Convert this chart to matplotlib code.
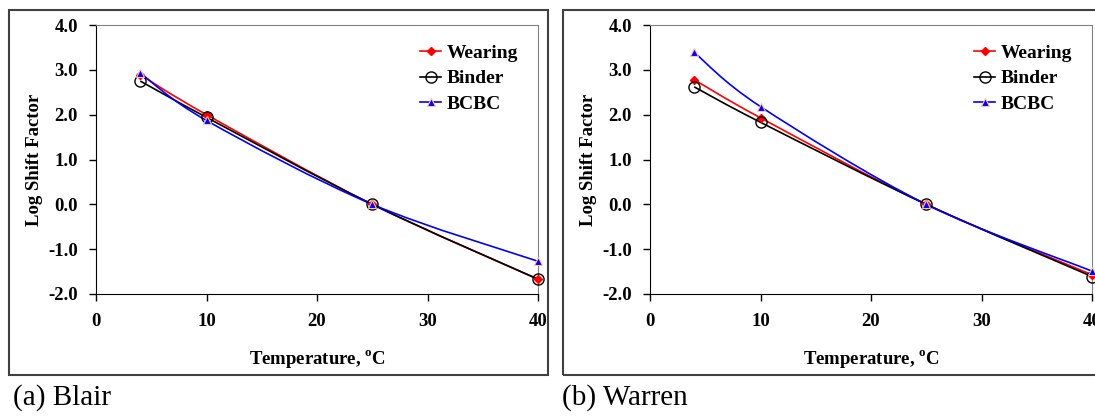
import numpy as np
import matplotlib
matplotlib.use('Agg')
from matplotlib import pyplot as plt
from matplotlib.path import Path
from matplotlib.patches import PathPatch, Rectangle
from matplotlib.lines import Line2D

plt.rcParams['font.family'] = ['Liberation Serif', 'DejaVu Serif']
plt.rcParams['mathtext.fontset'] = 'custom'
plt.rcParams['mathtext.rm'] = 'Liberation Serif'
plt.rcParams['mathtext.bf'] = 'Liberation Serif:bold'

# temperatures (C)
temps = [4, 10, 25, 40]

# Blair
blair_wearing = [2.89, 2.00, 0.0, -1.67]
blair_binder = [2.75, 1.94, 0.0, -1.67]
blair_bcbc = [2.93, 1.87, 0.0, -1.27]

# Warren
warren_wearing = [2.78, 1.93, 0.0, -1.57]
warren_binder = [2.62, 1.83, 0.0, -1.61]
warren_bcbc = [3.39, 2.18, 0.0, -1.49]

series_names = ['Wearing', 'Binder', 'BCBC']
captions = ['(a) Blair', '(b) Warren']
y_ticks = [-2, -1, 0, 1, 2, 3, 4]
x_ticks = [0, 10, 20, 30, 40]

styles = [
    dict(color='#ff0000', marker='D', markersize=4, mfc='#ff0000', mec='#ff0000'),
    dict(color='black', marker='o', markersize=8, mfc='none', mec='black', mew=1.0),
    dict(color='#0000ff', marker='^', markersize=6, mfc='#0000ff', mec='#ffc896', mew=0.8),
]


def smooth_path(x, y):
    # excel style smoothed line, catmull-rom turned into bezier segments
    pts = np.column_stack([x, y]).astype(float)
    verts = [pts[0]]
    codes = [Path.MOVETO]
    n = len(pts)
    for i in range(n - 1):
        p0 = pts[i - 1] if i > 0 else pts[i]
        p1 = pts[i]
        p2 = pts[i + 1]
        p3 = pts[i + 2] if i + 2 < n else pts[i + 1]
        c1 = p1 + (p2 - p0) / 6.0
        c2 = p2 - (p3 - p1) / 6.0
        verts += [c1, c2, p2]
        codes += [Path.CURVE4] * 3
    return Path(verts, codes)


fig = plt.figure(figsize=(10.95, 4.16), dpi=100)

# outer frames around each chart
for x0, w in [(9, 539), (563, 560)]:
    fig.patches.append(Rectangle((x0 / 1095, 1 - 375 / 416), w / 1095, 365 / 416,
                                 transform=fig.transFigure, fill=False,
                                 edgecolor='#404040', linewidth=1.5, zorder=0))

panels = [
    (96, [blair_wearing, blair_binder, blair_bcbc]),
    (650, [warren_wearing, warren_binder, warren_bcbc]),
]

for k, (left_px, data) in enumerate(panels):
    ax = fig.add_axes([left_px / 1095, 1 - 294 / 416, 442 / 1095, 269 / 416])
    for vals, st in zip(data, styles):
        ax.add_patch(PathPatch(smooth_path(temps, vals), facecolor='none',
                               edgecolor=st['color'], linewidth=1.2, zorder=3))
    for vals, st in zip(data, styles):
        ax.plot(temps, vals, linestyle='none', marker=st['marker'],
                markersize=st['markersize'], markerfacecolor=st['mfc'],
                markeredgecolor=st['mec'], markeredgewidth=st.get('mew', 1.0),
                zorder=4, clip_on=False)

    ax.set_xlim(0, 40)
    ax.set_ylim(-2, 4)
    ax.set_xticks(x_ticks)
    ax.set_yticks(y_ticks)
    ax.set_yticklabels(['%.1f' % v for v in y_ticks])
    ax.tick_params(direction='out', length=5, width=1.0, labelsize=13.5)
    ax.tick_params(axis='x', pad=9)
    ax.tick_params(axis='y', pad=8)
    for lab in ax.get_xticklabels() + ax.get_yticklabels():
        lab.set_fontweight('bold')
    ax.spines['left'].set_color('black')
    ax.spines['bottom'].set_color('black')
    ax.spines['top'].set_color('#808080')
    ax.spines['right'].set_color('#808080')

    ax.set_xlabel(r'Temperature, $^{\mathbf{o}}$C', fontsize=13.5, fontweight='bold', labelpad=13)
    ax.set_ylabel('Log Shift Factor', fontsize=13.5, fontweight='bold', labelpad=4)

    handles = [Line2D([], [], color=st['color'], linewidth=1.2, marker=st['marker'],
                      markersize=st['markersize'], markerfacecolor=st['mfc'],
                      markeredgecolor=st['mec'], markeredgewidth=st.get('mew', 1.0))
               for st in styles]
    ax.legend(handles, series_names, loc='upper right', frameon=False,
              prop={'weight': 'bold', 'size': 14}, handlelength=1.1,
              handletextpad=0.3, labelspacing=0.4, borderaxespad=0.6)

    fig.text((13 if k == 0 else 562) / 1095, 1 - 398 / 416, captions[k],
             fontsize=21, va='center', ha='left')

fig.savefig('out.png', dpi=100)
